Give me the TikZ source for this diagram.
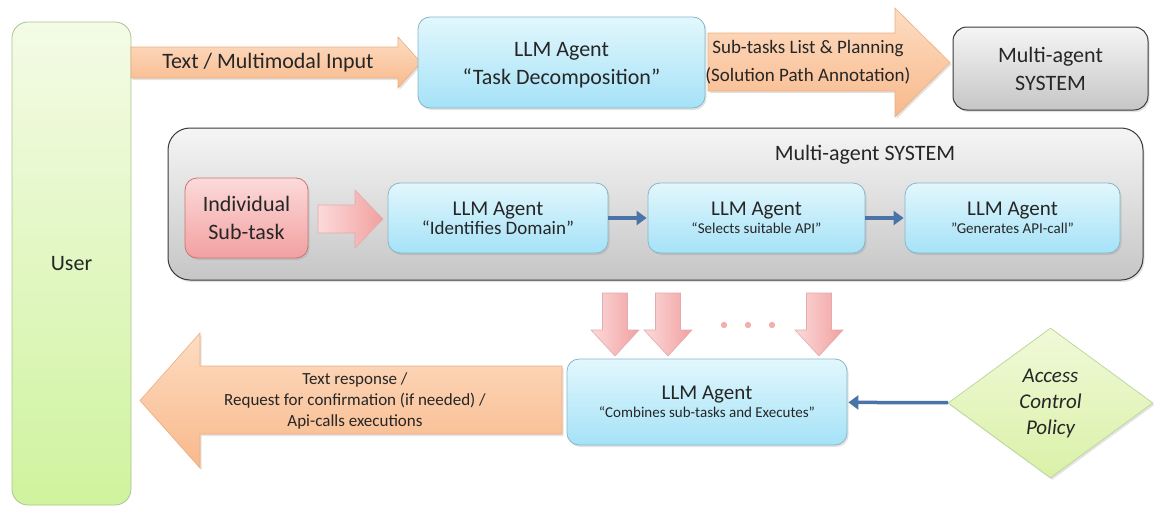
\documentclass[tikz,border=0pt]{standalone}
\usepackage{fontspec}
\setmainfont{Carlito}
\usetikzlibrary{shapes.geometric,arrows.meta,shadows}
\definecolor{txt}{HTML}{262626}
\definecolor{orTop}{HTML}{FDDCC2}
\definecolor{orBot}{HTML}{F8B98B}
\definecolor{orBd}{HTML}{EBAE80}
\definecolor{cyTop}{HTML}{E2F7FD}
\definecolor{cyBot}{HTML}{A5E2F7}
\definecolor{cyBd}{HTML}{86B6C8}
\definecolor{grTop}{HTML}{F4FBE6}
\definecolor{grBot}{HTML}{CFF39E}
\definecolor{grBd}{HTML}{A9C58C}
\definecolor{pkTop}{HTML}{FCDADA}
\definecolor{pkBot}{HTML}{F2A0A0}
\definecolor{pkBd}{HTML}{CC7474}
\definecolor{gyTop}{HTML}{F5F5F5}
\definecolor{gyBot}{HTML}{C6C6C6}
\definecolor{gyBd}{HTML}{3A3A3A}
\definecolor{dmTop}{HTML}{F0F9D8}
\definecolor{dmBot}{HTML}{DAF1A8}
\definecolor{dmBd}{HTML}{BDD89C}
\definecolor{conn}{HTML}{4A74A8}
\begin{document}
\begin{tikzpicture}[x=1pt,y=-1pt,
  every node/.style={text=txt, align=center, inner sep=2pt},
  shad/.style={drop shadow={opacity=0.22, shadow xshift=1.5pt, shadow yshift=-2pt}},
  cyanbox/.style={draw=cyBd, line width=0.8pt, rounded corners=12pt, top color=cyTop, bottom color=cyBot, shad},
  graybox/.style={draw=gyBd, line width=1pt, rounded corners=14pt, top color=gyTop, bottom color=gyBot, shad},
  userbox/.style={draw=grBd, line width=0.8pt, rounded corners=16pt, top color=grTop, bottom color=grBot},
  pinkbox/.style={draw=pkBd, line width=0.8pt, rounded corners=12pt, top color=pkTop, bottom color=pkBot, shad},
  orarrow/.style={draw=orBd, line width=0.6pt, top color=orTop, bottom color=orBot, shad},
  pkarrow/.style={draw=pkBd!60, line width=0.6pt, left color=pkTop, right color=pkBot},
  connector/.style={draw=conn, line width=3.5pt, -{Triangle[length=10pt,width=14pt]}, shorten >=1pt},
  big/.style={font=\fontsize{22}{28}\selectfont}
]
\useasboundingbox (0,0) rectangle (1161,506);

% User
\node[userbox, minimum width=119, minimum height=483, big] (user) at (71.5,263.5) {User};

% Input arrow
\path[orarrow] (131,47) -- (398,47) -- (398,37) -- (421,62.5) -- (398,88) -- (398,78) -- (131,78) -- cycle;
\node[big] (inlbl) at (268,62.5) {Text / Multimodal Input};

% Task decomposition
\node[cyanbox, minimum width=287, minimum height=91, big] (td) at (561.5,62.5) {};
\node[big] (tdtxt) at (561.5,65) {LLM Agent\\“Task Decomposition”};

% Sub-tasks arrow
\path[orarrow] (708,33) -- (895,33) -- (895,8) -- (950,62.5) -- (895,117) -- (895,91) -- (708,91) -- cycle;
\node[font=\fontsize{19}{28}\selectfont] (stlbl) at (808,62) {Sub-tasks List \& Planning\\(Solution Path Annotation)};

% Multi-agent system (top)
\node[graybox, minimum width=195, minimum height=83, big] (mas) at (1050.5,68.5) {Multi-agent\\SYSTEM};

% Container
\node[graybox, rounded corners=22pt, minimum width=975, minimum height=152] (cont) at (655.5,204) {};
\node[big] (conttitle) at (865,155) {Multi-agent SYSTEM};

% Individual sub-task
\node[pinkbox, minimum width=123, minimum height=80, big] (ist) at (246.5,218) {Individual\\Sub-task};

% pink right arrow
\path[pkarrow] (318,205) -- (355,205) -- (355,190) -- (383,219) -- (355,248) -- (355,233) -- (318,233) -- cycle;

% Middle agents
\node[cyanbox, minimum width=220, minimum height=70] (idd) at (498,218)
  {{\fontsize{21}{24}\selectfont LLM Agent}\\[1pt]{\fontsize{19}{22}\selectfont “Identifies Domain”}};
\node[cyanbox, minimum width=217, minimum height=70] (ssa) at (756.5,218)
  {{\fontsize{21}{24}\selectfont LLM Agent}\\[3pt]{\fontsize{15}{18}\selectfont “Selects suitable API”}};
\node[cyanbox, minimum width=215, minimum height=70] (gac) at (1012.5,218)
  {{\fontsize{21}{24}\selectfont LLM Agent}\\[3pt]{\fontsize{15}{18}\selectfont "Generates API-call"}};

\draw[connector] (idd) -- (ssa);
\draw[connector] (ssa) -- (gac);

% Down arrows
\foreach \cx in {615,668,819}{
  \path[pkarrow] (\cx-12.5,293) -- (\cx+12.5,293) -- (\cx+12.5,330) -- (\cx+24,330) -- (\cx,356) -- (\cx-24,330) -- (\cx-12.5,330) -- cycle;
}
\foreach \dx in {724,748,772}{
  \fill[pkBot!85] (\dx,325) circle (3.2);
}

% Combine agent
\node[cyanbox, minimum width=280, minimum height=86] (comb) at (707,402)
  {{\fontsize{21}{24}\selectfont LLM Agent}\\[3pt]{\fontsize{15}{18}\selectfont “Combines sub-tasks and Executes”}};

% Big left arrow
\path[orarrow] (562,366) -- (200,366) -- (200,333) -- (140,400.5) -- (200,468) -- (200,434) -- (562,434) -- cycle;
\node[font=\fontsize{17}{21}\selectfont] (resp) at (355,401) {Text response /\\Request for confirmation (if needed) /\\Api-calls executions};

% Access control policy
\node[diamond, draw=dmBd, line width=0.8pt, top color=dmTop, bottom color=dmBot, minimum width=205, minimum height=150, inner sep=0pt, font=\fontsize{21}{26}\selectfont\itshape, shad] (acp) at (1050.5,403) {Access\\Control\\Policy};

\draw[connector] (acp) -- (comb);
\end{tikzpicture}
\end{document}
